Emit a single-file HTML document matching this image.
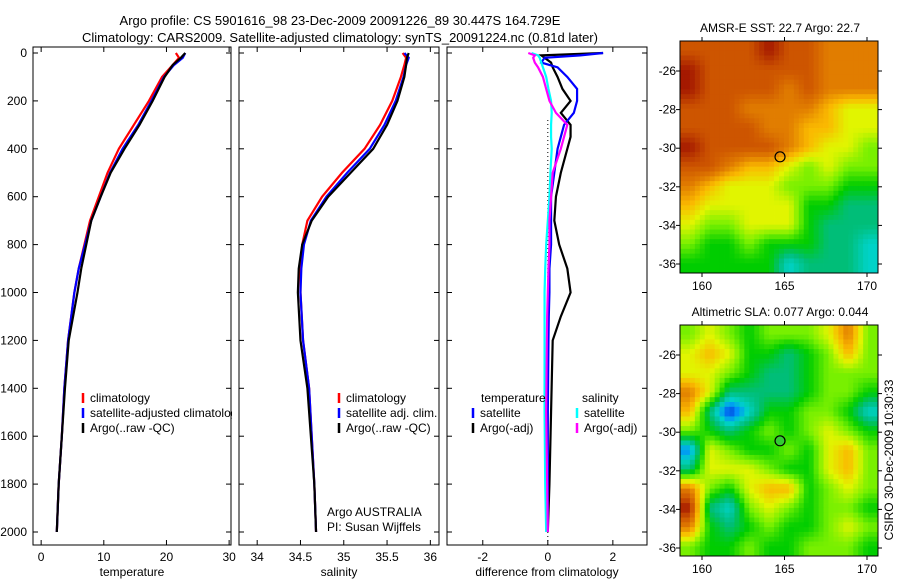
<!DOCTYPE html>
<html><head><meta charset="utf-8"><style>
body{margin:0;background:#fff;}
svg{display:block;font-family:"Liberation Sans",sans-serif;}
</style></head><body>
<svg id="c" width="900" height="580" xmlns="http://www.w3.org/2000/svg"></svg>
<script>
const depths=[0,20,50,100,200,300,400,500,600,700,800,900,1000,1200,1400,1600,1800,2000];
const tempClim=[21.5,22,21,19.3,17.2,14.8,12.4,10.6,9.2,7.8,6.9,6.0,5.3,4.3,3.7,3.3,2.8,2.5];
const tempSat=[23,22.6,21.2,19.6,17.6,15.5,13.0,11.0,9.5,8.0,7.0,6.0,5.3,4.3,3.7,3.3,2.8,2.5];
const tempArgo=[23,22.3,21,19.7,17.8,15.7,13.3,11.1,9.5,8.0,7.2,6.4,5.8,4.4,3.8,3.3,2.8,2.5];
const salClim=[35.68,35.72,35.7,35.66,35.56,35.42,35.24,34.98,34.75,34.58,34.52,34.5,34.5,34.53,34.6,34.63,34.66,34.68];
const salSat=[35.7,35.75,35.72,35.69,35.6,35.47,35.3,35.04,34.8,34.62,34.54,34.51,34.5,34.53,34.6,34.63,34.66,34.68];
const salArgo=[35.75,35.73,35.72,35.7,35.62,35.5,35.34,35.08,34.82,34.63,34.52,34.48,34.47,34.5,34.58,34.62,34.66,34.68];
const dDepths=[0,10,20,40,60,100,150,200,250,300,350,400,500,600,700,800,900,1000,1100,1200,1500,1800,2000];
const dTempSat=[1.7,1.0,-0.1,-0.2,0.3,0.6,0.9,0.9,0.8,0.5,0.4,0.3,0.2,0.1,0.1,0.1,0.05,0.05,0.03,0.02,0,0,0];
const dTempArgo=[1.7,-0.2,-0.1,0.1,0.15,0.3,0.45,0.7,0.4,0.7,0.7,0.6,0.4,0.25,0.2,0.35,0.6,0.7,0.4,0.15,0.1,0.05,0];
const dSalSat=[-0.5,-0.3,-0.25,-0.2,-0.15,-0.05,0.02,0.1,0.12,0.1,0.1,0.12,0.08,0.05,0,-0.05,-0.08,-0.1,-0.1,-0.1,-0.1,-0.08,-0.05];
const dSalArgo=[-0.6,-0.4,-0.45,-0.4,-0.3,-0.15,-0.05,0.05,0.25,0.6,0.5,0.4,0.15,0.1,0.05,0.05,0.02,0,-0.02,-0.03,-0.05,-0.02,0];
const depthTicks=[0,200,400,600,800,1000,1200,1400,1600,1800,2000];
const tempTicks=[0,10,20,30];
const salTicks=[34,34.5,35,35.5,36];
const diffTicks=[-2,0,2];
const lonTicks=[160,165,170];
const latTicks=[-26,-28,-30,-32,-34,-36];
const sstGrid=[
[9,9,9,9,10,9,9,8,8,8],[10,9,9,9,9,9,9,8,8,8],[10,9,9,9,9,8,9,8,8,8],[9,9,9,8,8,8,8,7,6,6],
[9,9,9,9,8,8,7,7,6,6],[10,9,9,9,9,8,7,6,6,5],[9,9,8,7,7,6,5,6,5,5],[8,7,6,6,6,5,5,5,4,4],
[7,6,6,6,6,6,4,4,3,3],[6,5,5,6,6,6,4,3,3,3],[5,4,4,5,4,4,4,3,3,2],[4,4,4,4,4,2,3,3,3,2]];
const slaGrid=[
[5,6,5,4,5,5,5,6,8,5],[6,7,6,4,4,3,4,5,7,5],[6,6,5,4,3,3,4,5,5,5],[8,6,3,3,3,3,4,5,5,4],
[7,3,0,2,4,4,5,5,4,2],[5,4,3,4,5,4,5,6,5,4],[1,6,5,4,4,5,4,6,7,5],[3,6,6,6,5,4,4,6,7,5],
[8,5,4,6,7,7,4,5,6,5],[10,3,2,5,6,5,4,5,5,4],[8,4,3,4,5,4,4,5,6,5],[5,4,4,5,4,4,5,5,5,4]];

const S=document.getElementById('c');const NS='http://www.w3.org/2000/svg';
function mk(t,a,p){const e=document.createElementNS(NS,t);for(const k in a)e.setAttribute(k,a[k]);(p||S).appendChild(e);return e;}
function txt(x,y,s,o){o=o||{};const e=mk('text',{x:x,y:y,'font-size':o.fs||12,'text-anchor':o.a||'start',fill:'#000'});if(o.tr)e.setAttribute('transform',o.tr);e.textContent=s;return e;}
const yD=d=>53+d*0.2395;
function panel(name,x0,x1,xmin,xmax,ticks,label,showY){
  const sx=v=>x0+(v-xmin)/(xmax-xmin)*(x1-x0);
  const g=mk('g',{});
  const r=mk('rect',{x:x0,y:47,width:x1-x0,height:498,fill:'#fff',stroke:'#000','stroke-width':1},g);
  
  ticks.forEach(t=>{const X=sx(t);mk('line',{x1:X,y1:545,x2:X,y2:540,stroke:'#000'},g);mk('line',{x1:X,y1:47,x2:X,y2:52,stroke:'#000'},g);
    const e=txt(X,561,String(t),{a:'middle'});});
  depthTicks.forEach(d=>{const Y=yD(d);mk('line',{x1:x0,y1:Y,x2:x0+5,y2:Y,stroke:'#000'},g);mk('line',{x1:x1,y1:Y,x2:x1-5,y2:Y,stroke:'#000'},g);
    if(showY){const e=txt(27,Y+4,String(d),{a:'end'});}});
  const l=txt((x0+x1)/2,576,label,{a:'middle'});
  return sx;
}
function line(sx,ds,vs,col,name,x0,x1){
  const cp='cp'+name;const c=mk('clipPath',{id:cp});mk('rect',{x:x0,y:47,width:x1-x0,height:498},c);
  const p=mk('polyline',{points:vs.map((v,i)=>sx(v)+','+yD(ds[i])).join(' '),fill:'none',stroke:col,'stroke-width':2.2,'clip-path':'url(#'+cp+')'});
  
}
function legend(x,y,items){items.forEach((it,i)=>{const Y=y+i*15;mk('line',{x1:x,y1:Y-9,x2:x,y2:Y+1,stroke:it[1],'stroke-width':2.5});
  const e=txt(x+7,Y,it[0]);});}

txt(340,25,'Argo profile: CS 5901616_98 23-Dec-2009 20091226_89 30.447S 164.729E',{fs:13,a:'middle'});
txt(340,42,'Climatology: CARS2009. Satellite-adjusted climatology: synTS_20091224.nc (0.81d later)',{fs:13,a:'middle'});

let sx=panel('temperature-panel',33,231,-1.3,30.3,tempTicks,'temperature',true);
line(sx,depths,tempClim,'#f00','temp-climatology-line',33,231);
line(sx,depths,tempSat,'#00f','temp-satellite-line',33,231);
line(sx,depths,tempArgo,'#000','temp-argo-line',33,231);
legend(83,402,[['climatology','#f00'],['satellite-adjusted climatology','#00f'],['Argo(..raw -QC)','#000']]);
mk('rect',{x:232,y:380,width:7,height:60,fill:'#fff'});

sx=panel('salinity-panel',239,439,33.79,36.1,salTicks,'salinity',false);
line(sx,depths,salClim,'#f00','sal-climatology-line',239,439);
line(sx,depths,salSat,'#00f','sal-satellite-line',239,439);
line(sx,depths,salArgo,'#000','sal-argo-line',239,439);
legend(339,402,[['climatology','#f00'],['satellite adj. clim.','#00f'],['Argo(..raw -QC)','#000']]);
txt(327,516,'Argo AUSTRALIA');
txt(327,531,'PI: Susan Wijffels');

sx=panel('difference-panel',447,647,-3.1,3.05,diffTicks,'difference from climatology',false);
mk('line',{x1:sx(0),y1:yD(280),x2:sx(0),y2:545,stroke:'#000','stroke-dasharray':'1,3'});
line(sx,dDepths,dTempArgo,'#000','diff-temp-argo-line',447,647);
line(sx,dDepths,dTempSat,'#00f','diff-temp-satellite-line',447,647);
line(sx,dDepths,dSalSat,'#0ff','diff-sal-satellite-line',447,647);
line(sx,dDepths,dSalArgo,'#f0f','diff-sal-argo-line',447,647);
txt(481,402,'temperature');txt(582,402,'salinity');
legend(473,417,[['satellite','#00f'],['Argo(-adj)','#000']]);
legend(577,417,[['satellite','#0ff'],['Argo(-adj)','#f0f']]);

const cmap=[[0,40,200],[0,140,255],[0,210,200],[0,190,120],[0,205,0],[120,240,0],[225,245,0],[250,185,0],[225,125,0],[205,85,0],[165,25,0]];
function col(v){v=Math.max(0,Math.min(10,v));const i=Math.min(9,Math.floor(v)),f=v-i,a=cmap[i],b=cmap[i+1];
  return 'rgb('+[0,1,2].map(k=>Math.round(a[k]+(b[k]-a[k])*f)).join(',')+')';}
function sample(grid,r,c){const R=grid.length-1,C=grid[0].length-1;r=Math.max(0,Math.min(R,r));c=Math.max(0,Math.min(C,c));
  const r0=Math.floor(r),c0=Math.floor(c),r1=Math.min(R,r0+1),c1=Math.min(C,c0+1),fr=r-r0,fc=c-c0;
  return grid[r0][c0]*(1-fr)*(1-fc)+grid[r0][c1]*(1-fr)*fc+grid[r1][c0]*fr*(1-fc)+grid[r1][c1]*fr*fc;}
function map(name,grid,top,bot,ytick26,ytick36,title,ttlY,ptFill){
  const x0=680,x1=878,g=mk('g',{});
  const U=4,rows=grid.length*U,cols=grid[0].length*U,cw=(x1-x0)/cols,ch=(bot-top)/rows;
  for(let i=0;i<rows;i++)for(let j=0;j<cols;j++){
    const v=sample(grid,(i+0.5)/U-0.5,(j+0.5)/U-0.5);
    const e=mk('rect',{x:(x0+j*cw).toFixed(2),y:(top+i*ch).toFixed(2),width:(cw+0.4).toFixed(2),height:(ch+0.4).toFixed(2),fill:col(v)},g);
    
    }
  mk('rect',{x:x0,y:top,width:x1-x0,height:bot-top,fill:'none',stroke:'#000'},g);
  const lx=v=>702+(v-160)*16.5;
  lonTicks.forEach(t=>{const X=lx(t);mk('line',{x1:X,y1:bot,x2:X,y2:bot+4,stroke:'#000'},g);mk('line',{x1:X,y1:top,x2:X,y2:top-4,stroke:'#000'},g);txt(X,bot+17,String(t),{a:'middle'});});
  const ly=v=>ytick26+(-26-v)/10*(ytick36-ytick26);
  latTicks.forEach(t=>{const Y=ly(t);mk('line',{x1:x0,y1:Y,x2:x0-4,y2:Y,stroke:'#000'},g);mk('line',{x1:x1,y1:Y,x2:x1+4,y2:Y,stroke:'#000'},g);txt(676,Y+4,String(t),{a:'end'});});
  const c=mk('circle',{cx:lx(164.729),cy:ly(-30.447),r:5,fill:ptFill,stroke:'#000','stroke-width':1.2},g);
  
  txt(780,ttlY,title,{a:'middle'});
}
map('sst-map',sstGrid,41,273,71,264,'AMSR-E SST: 22.7 Argo: 22.7',32,'none');
map('sla-map',slaGrid,325,556,355,548,'Altimetric SLA: 0.077 Argo: 0.044',316,'#3c3');
txt(893,460,'CSIRO 30-Dec-2009 10:30:33',{a:'middle',tr:'rotate(-90 893 460)'});
</script>
</body></html>
